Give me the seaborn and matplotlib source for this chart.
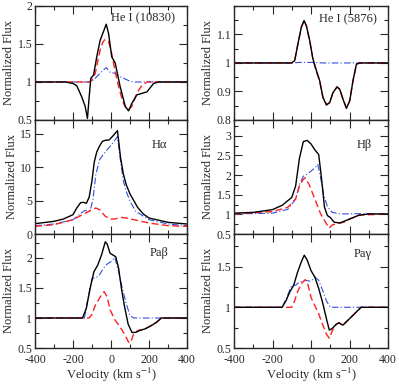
import matplotlib
matplotlib.use("Agg")
import matplotlib.pyplot as plt
import seaborn as sns
from matplotlib.ticker import MultipleLocator, FixedLocator, FuncFormatter

# He I (10830)
he10830_v_obs = [-400, -240, -200, -180, -155, -136, -124, -115, -106, -92, -75, -57, -40, -25, -13, 4, 22, 48, 75, 92, 110, 136, 162, 189, 224, 250, 400]
he10830_obs = [1.0, 1.0, 0.98, 0.95, 0.81, 0.68, 0.52, 0.80, 1.05, 1.09, 1.33, 1.55, 1.66, 1.76, 1.64, 1.33, 1.25, 0.94, 0.68, 0.62, 0.72, 0.83, 0.85, 0.87, 0.98, 1.0, 1.0]
he10830_v_red = [-400, -115, -100, -83, -70, -57, -44, -31, -13, 0, 13, 27, 40, 53, 66, 79, 92, 110, 125, 136, 150, 162, 189, 400]
he10830_red = [1.0, 1.0, 1.03, 1.11, 1.27, 1.42, 1.52, 1.56, 1.53, 1.42, 1.25, 1.08, 0.94, 0.82, 0.72, 0.66, 0.63, 0.68, 0.78, 0.85, 0.91, 0.95, 1.0, 1.0]
he10830_v_blue = [-400, -110, -90, -75, -48, -25, -10, 0, 13, 30, 48, 65, 83, 100, 119, 400]
he10830_blue = [1.0, 1.0, 1.03, 1.07, 1.14, 1.19, 1.14, 1.12, 1.12, 1.10, 1.07, 1.05, 1.03, 1.01, 1.0, 1.0]

# He I (5876)
he5876_v_obs = [-400, -102, -85, -68, -50, -36, -24, -7, 10, 28, 45, 62, 80, 97, 114, 135, 149, 166, 184, 201, 218, 236, 253, 400]
he5876_obs = [1.0, 1.0, 1.008, 1.067, 1.126, 1.149, 1.13, 1.079, 1.014, 0.973, 0.938, 0.879, 0.853, 0.861, 0.896, 0.916, 0.908, 0.873, 0.841, 0.867, 0.938, 0.996, 1.0, 1.0]
he5876_v_red = [-400, -102, -85, -68, -50, -36, -24, -7, 10, 28, 45, 62, 80, 97, 114, 135, 149, 166, 184, 201, 218, 236, 253, 400]
he5876_red = [1.0, 1.0, 1.008, 1.067, 1.126, 1.149, 1.13, 1.079, 1.012, 0.970, 0.935, 0.879, 0.853, 0.861, 0.896, 0.916, 0.908, 0.873, 0.841, 0.867, 0.938, 0.996, 1.0, 1.0]
he5876_v_blue = [-400, -100, -60, 0, 40, 60, 400]
he5876_blue = [1.0, 1.0, 1.002, 1.002, 1.001, 1.0, 1.0]

# H alpha
ha_v_obs = [-400, -300, -250, -200, -180, -160, -145, -130, -115, -100, -88, -75, -60, -45, -30, -10, 10, 34, 50, 65, 80, 100, 120, 140, 170, 200, 300, 400]
ha_obs = [1.55, 1.9, 2.25, 2.9, 3.9, 4.7, 4.75, 4.6, 5.5, 8.0, 10.8, 12.3, 13.2, 13.9, 14.05, 14.1, 14.7, 15.5, 11.5, 9.0, 7.4, 6.0, 5.0, 4.0, 3.0, 2.4, 1.75, 1.5]
ha_v_red = [-400, -300, -200, -150, -100, -80, -60, -30, 0, 20, 50, 80, 120, 200, 300, 400]
ha_red = [1.15, 1.4, 2.15, 2.9, 3.65, 3.9, 3.65, 2.65, 2.25, 2.25, 2.5, 2.4, 2.15, 1.65, 1.25, 1.15]
ha_v_blue = [-400, -300, -200, -160, -140, -110, -95, -80, -60, -30, 0, 34, 50, 65, 80, 100, 130, 200, 300, 400]
ha_blue = [1.25, 1.5, 2.15, 3.05, 3.5, 3.5, 5.15, 8.9, 11.15, 12.3, 13.3, 14.6, 11.0, 8.0, 6.4, 4.9, 3.4, 2.15, 1.5, 1.25]

# H beta
hb_v_obs = [-400, -300, -200, -150, -100, -80, -60, -40, -20, 0, 20, 40, 55, 70, 85, 100, 120, 150, 200, 250, 300, 400]
hb_obs = [1.03, 1.05, 1.12, 1.23, 1.43, 1.72, 2.43, 2.85, 2.88, 2.79, 2.64, 2.52, 1.89, 1.18, 0.97, 0.92, 0.80, 0.78, 0.88, 0.98, 1.01, 1.01]
hb_v_red = [-400, -200, -120, -80, -60, -40, -30, -10, 20, 50, 80, 95, 110, 140, 170, 200, 250, 400]
hb_red = [1.01, 1.07, 1.18, 1.39, 1.72, 1.89, 1.93, 1.76, 1.39, 1.01, 0.76, 0.65, 0.73, 0.77, 0.80, 0.88, 0.98, 1.01]
hb_v_blue = [-400, -200, -120, -80, -60, -40, -20, 0, 20, 35, 50, 65, 85, 110, 150, 300, 400]
hb_blue = [1.01, 1.03, 1.13, 1.39, 1.76, 1.97, 2.02, 2.1, 2.18, 2.27, 1.93, 1.51, 1.2, 1.05, 1.01, 1.02, 1.01]

# Pa beta
pab_v_obs = [-400, -150, -130, -110, -90, -70, -50, -30, -20, -5, 10, 25, 40, 55, 70, 90, 110, 130, 150, 180, 210, 240, 265, 400]
pab_obs = [1.0, 1.0, 1.16, 1.49, 1.77, 1.88, 2.05, 2.27, 2.23, 2.08, 2.05, 2.02, 1.83, 1.49, 1.21, 0.90, 0.76, 0.76, 0.79, 0.82, 0.87, 0.93, 1.0, 1.0]
pab_v_red = [-400, -115, -100, -83, -57, -36, -20, -4, 22, 48, 75, 92, 104, 119, 140, 180, 210, 240, 265, 400]
pab_red = [1.0, 1.0, 1.06, 1.21, 1.35, 1.44, 1.35, 1.13, 0.96, 0.85, 0.71, 0.60, 0.59, 0.74, 0.79, 0.82, 0.87, 0.93, 1.0, 1.0]
pab_v_blue = [-400, -140, -120, -100, -80, -60, -40, -20, 0, 20, 40, 60, 80, 100, 120, 400]
pab_blue = [1.0, 1.0, 1.35, 1.66, 1.67, 1.72, 1.83, 1.9, 1.94, 2.01, 1.77, 1.49, 1.24, 1.04, 1.0, 1.0]

# Pa gamma
pag_v_obs = [-400, -150, -130, -110, -90, -70, -50, -35, -20, 0, 20, 40, 60, 80, 95, 110, 130, 145, 165, 200, 230, 260, 400]
pag_obs = [1.0, 1.0, 1.08, 1.19, 1.27, 1.43, 1.56, 1.64, 1.58, 1.45, 1.37, 1.23, 1.06, 0.86, 0.72, 0.74, 0.79, 0.81, 0.78, 0.86, 0.93, 1.0, 1.0]
pag_v_red = [-400, -100, -85, -70, -50, -30, -15, 0, 20, 40, 60, 80, 95, 110, 130, 145, 165, 200, 230, 260, 400]
pag_red = [1.0, 1.0, 1.08, 1.19, 1.29, 1.34, 1.27, 1.12, 1.02, 0.92, 0.79, 0.67, 0.62, 0.71, 0.79, 0.81, 0.78, 0.86, 0.93, 1.0, 1.0]
pag_v_blue = [-400, -150, -130, -100, -80, -60, -30, 0, 20, 40, 60, 80, 100, 400]
pag_blue = [1.0, 1.0, 1.1, 1.27, 1.27, 1.31, 1.33, 1.32, 1.37, 1.33, 1.21, 1.08, 1.0, 1.0]

sns.set_style("ticks")
plt.rcParams['font.family'] = ['Liberation Serif', 'DejaVu Serif']
plt.rcParams['mathtext.fontset'] = 'stix'
plt.rcParams['axes.unicode_minus'] = False

fig = plt.figure(figsize=(3.99, 3.84), dpi=100)

# panel: (left/bottom, ylim, major ticks, minor step, name, text pos, data)
panels = [
    ([0.0877, 0.6875], (0.5, 2.0), [0.5, 1, 1.5, 2], 0.25, "He I (10830)", (0.92, 0.895),
     (he10830_v_obs, he10830_obs, he10830_v_red, he10830_red, he10830_v_blue, he10830_blue)),
    ([0.5865, 0.6875], (0.8, 1.2), [0.8, 0.9, 1.0, 1.1], 0.05, "He I (5876)", (0.93, 0.88),
     (he5876_v_obs, he5876_obs, he5876_v_red, he5876_red, he5876_v_blue, he5876_blue)),
    ([0.0877, 0.3906], (0, 17.1), [0, 5, 10, 15], 2.5, "H\u03b1", (0.87, 0.78),
     (ha_v_obs, ha_obs, ha_v_red, ha_red, ha_v_blue, ha_blue)),
    ([0.5865, 0.3906], (0.5, 3.4), [0.5, 1, 1.5, 2, 2.5, 3], 0.25, "H\u03b2", (0.895, 0.78),
     (hb_v_obs, hb_obs, hb_v_red, hb_red, hb_v_blue, hb_blue)),
    ([0.0877, 0.0937], (0.5, 2.4), [0.5, 1, 1.5, 2], 0.25, "Pa\u03b2", (0.875, 0.83),
     (pab_v_obs, pab_obs, pab_v_red, pab_red, pab_v_blue, pab_blue)),
    ([0.5865, 0.0937], (0.5, 1.9), [0.5, 1, 1.5], 0.25, "Pa\u03b3", (0.895, 0.82),
     (pag_v_obs, pag_obs, pag_v_red, pag_red, pag_v_blue, pag_blue)),
]

fmt = FuncFormatter(lambda v, p: ("%g" % v))

for i, (pos, ylim, yt, ymin, name, tpos, d) in enumerate(panels):
    w = 0.381 if pos[0] < 0.5 else 0.386
    ax = fig.add_axes([pos[0], pos[1], w, 0.297])
    vo, fo, vr, fr, vb, fb = d
    sns.lineplot(x=vb, y=fb, ax=ax, color="#3050e0", lw=0.8, linestyle=(0, (6, 2, 1, 2)))
    sns.lineplot(x=vr, y=fr, ax=ax, color="#ff2020", lw=1.0, linestyle=(0, (5, 2.5)))
    sns.lineplot(x=vo, y=fo, ax=ax, color="black", lw=1.0)
    ax.set_xlim(-400, 400)
    ax.set_ylim(*ylim)
    ax.xaxis.set_major_locator(MultipleLocator(200))
    ax.xaxis.set_minor_locator(MultipleLocator(100))
    ax.yaxis.set_major_locator(FixedLocator(yt))
    ax.yaxis.set_minor_locator(MultipleLocator(ymin))
    ax.yaxis.set_major_formatter(fmt)
    ax.tick_params(which='both', direction='in', top=True, right=True, labelsize=8.5)
    ax.tick_params(axis='y', pad=2)
    ax.tick_params(axis='x', pad=4)
    ax.tick_params(which='major', length=5.5, width=0.8)
    ax.tick_params(which='minor', length=3, width=0.8)
    for s in ax.spines.values():
        s.set_linewidth(1.0)
    ax.set_ylabel("Normalized Flux", fontsize=9, labelpad=2)
    if i >= 4:
        ax.xaxis.set_major_formatter(fmt)
        ax.set_xlabel("Velocity (km s$^{-1}$)", fontsize=9, labelpad=0.5)
    else:
        ax.set_xticklabels([])
        ax.set_xlabel("")
    ax.text(tpos[0], tpos[1], name, transform=ax.transAxes, ha='right', va='center', fontsize=9)

fig.savefig("out.png", dpi=100)
